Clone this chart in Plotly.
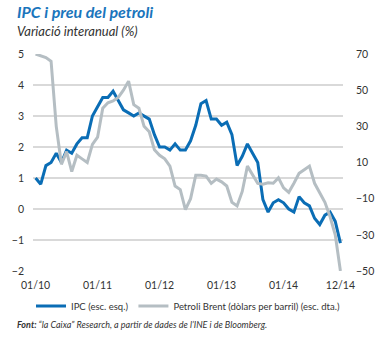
import plotly.graph_objects as go

months = [f"{m:02d}/{y}" for y in range(10, 15) for m in range(1, 13)]

ipc = [1.0, 0.8, 1.4, 1.5, 1.8, 1.5, 1.9, 1.8, 2.1, 2.3, 2.3, 3.0,
       3.3, 3.6, 3.6, 3.8, 3.5, 3.2, 3.1, 3.0, 3.1, 3.0, 2.9, 2.4,
       2.0, 2.0, 1.9, 2.1, 1.9, 1.9, 2.2, 2.7, 3.4, 3.5, 2.9, 2.9,
       2.7, 2.8, 2.4, 1.4, 1.7, 2.1, 1.8, 1.5, 0.3, -0.1, 0.2, 0.3,
       0.2, 0.0, -0.1, 0.4, 0.2, 0.1, -0.3, -0.5, -0.2, -0.1, -0.4, -1.1]

brent = [70, 69, 68, 66, 30, 9, 16, 5, 14, 12, 10, 20,
         24, 40, 43, 44, 46, 50, 55, 42, 40, 30, 27, 17,
         14, 12, 8, -3, -5, -16, -10, 3, 3, 2.5, -1.5, 0.8,
         -0.7, -3, -12, -14, -6, 8, 3.5, -1.6, -2, -1.2, -1.5, 1.5,
         -4, -6.5, -1.5, 4, 6, 8, -1.5, -7, -12, -20, -30, -50]

x_ticks = ["01/10", "01/11", "01/12", "01/13", "01/14", "12/14"]
left_ticks = [-2, -1, 0, 1, 2, 3, 4, 5]
right_ticks = [-50, -30, -10, 10, 30, 50, 70]
boundary_ticks = [-0.5, 11.5, 23.5, 35.5, 47.5, 59.5]

FONT = "Lato"
BLUE = "#0a6db5"
GRAY = "#b5bec3"
TXT = "#333333"

fig = go.Figure()
fig.add_trace(go.Scatter(x=months, y=ipc, name="IPC (esc. esq.)", mode="lines",
                         line=dict(color=BLUE, width=3), xaxis="x", yaxis="y"))
fig.add_trace(go.Scatter(x=months, y=brent, name="Petroli Brent (dòlars per barril) (esc. dta.)",
                         mode="lines", line=dict(color=GRAY, width=3), xaxis="x", yaxis="y2"))

fig.update_layout(
    width=386, height=338,
    margin=dict(l=31, r=30, t=54, b=67),
    paper_bgcolor="white", plot_bgcolor="white",
    font=dict(family=FONT, size=10, color=TXT),
    showlegend=True,
    legend=dict(orientation="h", x=0.5, xanchor="center", y=-0.161, yanchor="middle",
                font=dict(size=9.5, color=TXT), itemwidth=30, tracegroupgap=0),
    xaxis=dict(type="category", range=[-0.5, 59.5], tickmode="array", tickvals=x_ticks,
               ticktext=x_ticks, showgrid=False, showline=False, zeroline=False,
               ticks="", tickfont=dict(size=10.5, color=TXT), ticklabelstandoff=6),
    xaxis2=dict(overlaying="x", anchor="free", position=2 / 7, range=[-0.5, 59.5],
                showgrid=False, zeroline=False, showline=True, linecolor="#555555",
                linewidth=1, ticks="inside", ticklen=4, tickcolor="#555555",
                tickvals=boundary_ticks, showticklabels=False),
    yaxis=dict(range=[-2, 5], tickvals=left_ticks, showgrid=True, gridcolor="#d9d9d9",
               gridwidth=1.5, zeroline=False, showline=False, ticks="",
               tickfont=dict(size=10.5, color=TXT), ticklabelstandoff=8),
    yaxis2=dict(range=[-50, 70], tickvals=right_ticks, overlaying="y", side="right",
                showgrid=False, zeroline=False, showline=False, ticks="",
                tickfont=dict(size=10.5, color=TXT), ticklabelstandoff=12),
    annotations=[
        dict(text="<b><i>IPC i preu del petroli</i></b>", xref="paper", yref="paper",
             x=(12 - 31) / 325, y=(271 - 12) / 217, xanchor="left", yanchor="middle",
             showarrow=False, font=dict(family=FONT, size=16, color="#1a75bc")),
        dict(text="<i>Variació interanual (%)</i>", xref="paper", yref="paper",
             x=(12 - 31) / 325, y=(271 - 31) / 217, xanchor="left", yanchor="middle",
             showarrow=False, font=dict(family=FONT, size=13, color=TXT)),
        dict(text="<b><i>Font:</i></b><i> “la Caixa” Research, a partir de dades de l’INE i de Bloomberg.</i>",
             xref="paper", yref="paper", x=(12 - 31) / 325, y=(271 - 324) / 217,
             xanchor="left", yanchor="middle", showarrow=False,
             font=dict(family=FONT, size=9, color=TXT)),
    ],
)

fig.write_html("out.html")
